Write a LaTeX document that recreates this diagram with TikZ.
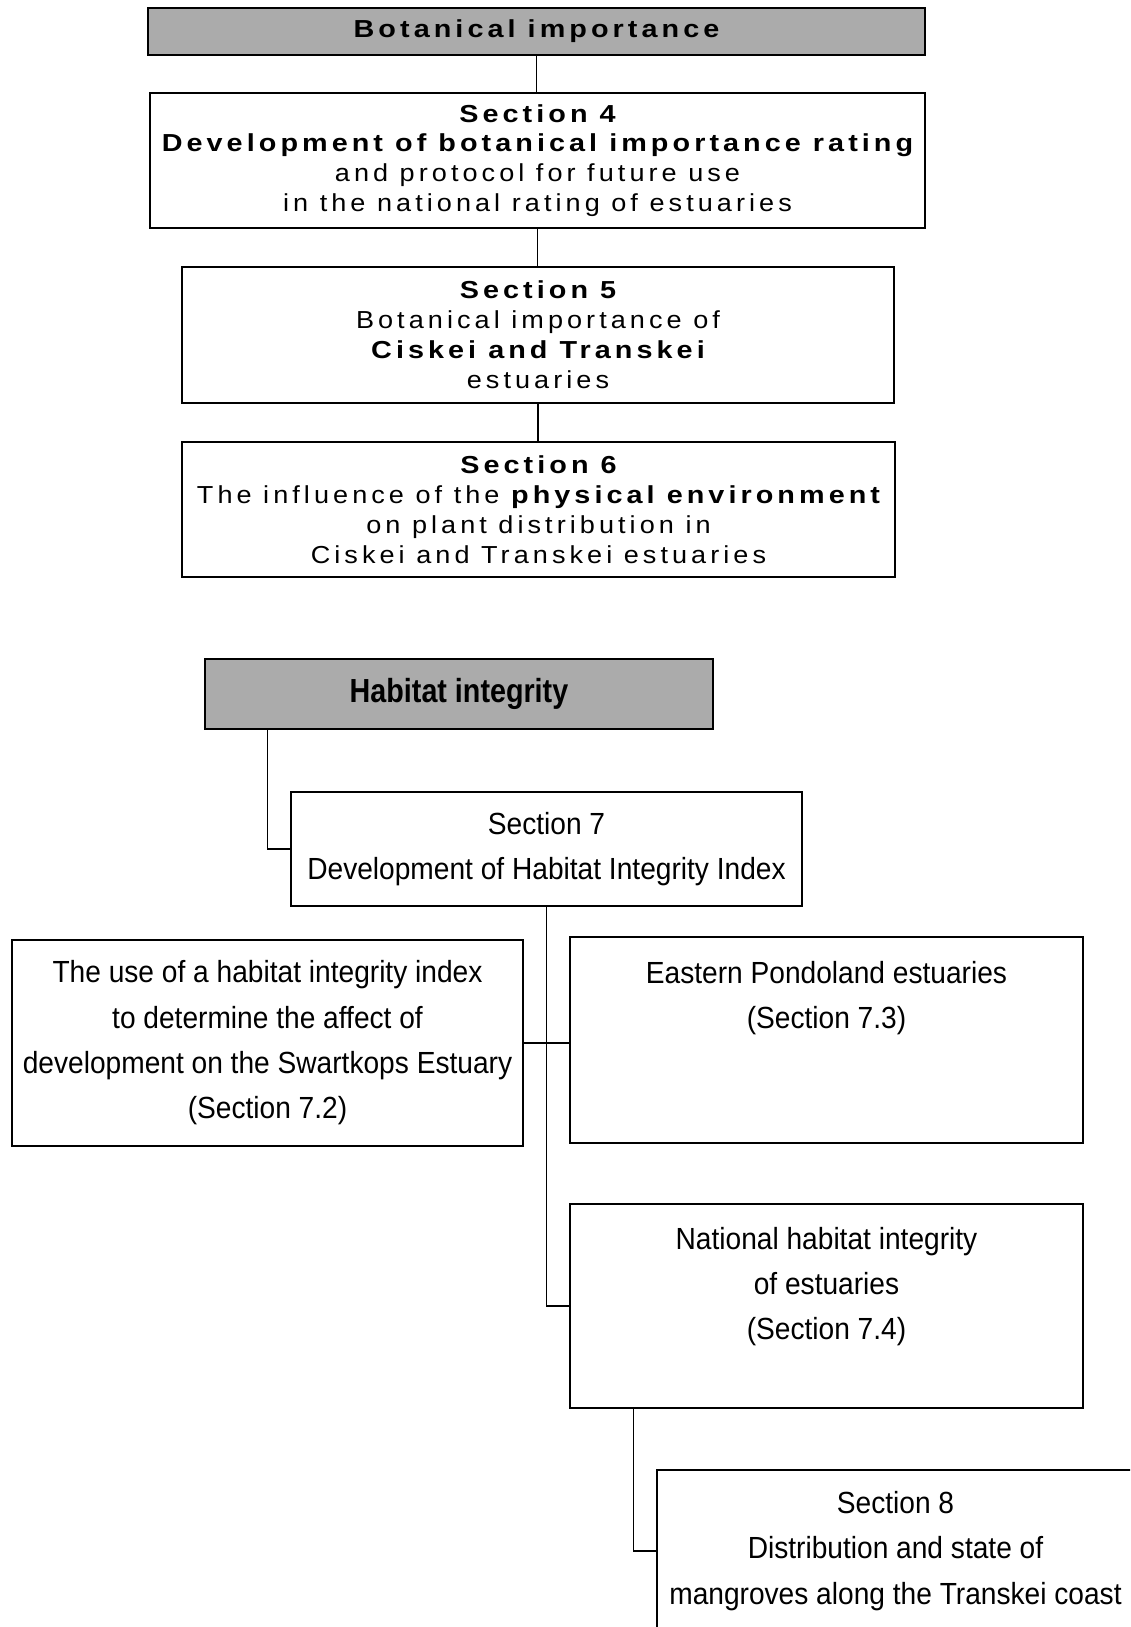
\documentclass[tikz,border=0pt]{standalone}
\usepackage{fontspec}
\setmainfont{Liberation Sans}
\newfontfamily\widefont[LetterSpace=16.5,FakeStretch=1.1,BoldFeatures={FakeStretch=1.17}]{Liberation Sans}
\newfontfamily\narrowfont[FakeStretch=0.92]{Liberation Sans}
\newfontfamily\headfont[FakeStretch=0.86]{Liberation Sans}

\begin{document}
\begin{tikzpicture}[x=0.02cm, y=-0.02cm,
  box/.style={draw, line width=0.8pt, inner sep=0pt, align=center},
  headbox/.style={box, fill=black!33},
  toptext/.style={font=\widefont\fontsize{14pt}{17pt}\selectfont},
  lowtext/.style={font=\narrowfont\fontsize{17.4pt}{25.8pt}\selectfont},
  headtext/.style={font=\headfont\bfseries\fontsize{19pt}{22pt}\selectfont},
  link/.style={line width=0.8pt}]
\useasboundingbox (0,0) rectangle (1130,1627);
\clip (0,0) rectangle (1130,1627);
% Botanical importance
\node[headbox, toptext, minimum width=15.54cm, minimum height=0.94cm] (bot) at (536.5,31.5) {\bfseries Botanical importance};
\node[box, toptext, minimum width=15.5cm, minimum height=2.7cm] (s4) at (537.5,160.5)
  {{\bfseries Section 4}\\ {\bfseries Development of botanical importance rating}\\ and protocol for future use\\ in the national rating of estuaries};
\node[box, toptext, minimum width=14.24cm, minimum height=2.72cm] (s5) at (538,335)
  {{\bfseries Section 5}\\ Botanical importance of\\ {\bfseries Ciskei and Transkei}\\ estuaries};
\node[box, toptext, minimum width=14.26cm, minimum height=2.7cm] (s6) at (538.5,509.5)
  {{\bfseries Section 6}\\ The influence of the {\bfseries physical environment}\\ on plant distribution in\\ Ciskei and Transkei estuaries};
\draw[link] (bot.south) -- (bot.south |- s4.north);
\draw[link] (s4.south) -- (s4.south |- s5.north);
\draw[link] (s5.south) -- (s5.south |- s6.north);
% Habitat integrity
\node[headbox, headtext, minimum width=10.16cm, minimum height=1.4cm] (hab) at (459,694) {Habitat integrity};
\node[box, lowtext, minimum width=10.22cm, minimum height=2.28cm] (s7) at (546.5,849)
  {Section 7\\ Development of Habitat Integrity Index};
\node[box, lowtext, minimum width=10.22cm, minimum height=4.12cm] (s72) at (267.5,1043)
  {The use of a habitat integrity index\\ to determine the affect of\\ development on the Swartkops Estuary\\ (Section 7.2)};
\node[box, lowtext, minimum width=10.26cm, minimum height=4.12cm] (s73) at (826.5,1040)
  {Eastern Pondoland estuaries\\ (Section 7.3)\\ ~\\ ~};
\node[box, lowtext, minimum width=10.26cm, minimum height=4.08cm] (s74) at (826.5,1306)
  {National habitat integrity\\ of estuaries\\ (Section 7.4)\\ ~};
\node[box, lowtext, minimum width=9.54cm, minimum height=3.24cm] (s8) at (895.5,1551)
  {Section 8\\ Distribution and state of\\ mangroves along the Transkei coast};
% Verbindungen
\draw[link] ([xshift=1.26cm]hab.south west) |- (s7.west);
\draw[link] (s7.south) |- (s74.west);
\draw[link] (s72.east) -- (s72.east -| s73.west);
\draw[link] ([xshift=1.28cm]s74.south west) |- (s8.west);
\end{tikzpicture}
\end{document}
